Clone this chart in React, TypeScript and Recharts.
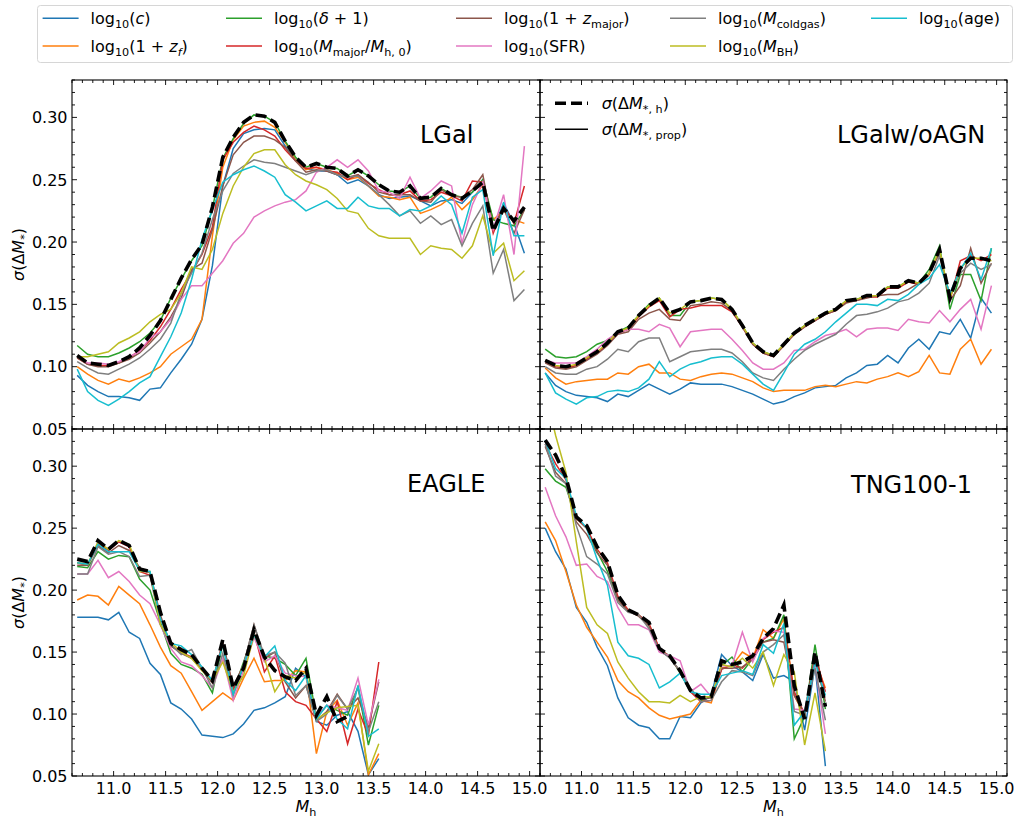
import { LineChart, Line, XAxis, YAxis } from "recharts";

// halo mass bins (same grid for all runs, EAGLE and TNG stop earlier)
const MH_BINS = [
  10.65, 10.75, 10.85, 10.95, 11.05, 11.15, 11.25, 11.35, 11.45, 11.55, 11.65,
  11.75, 11.85, 11.95, 12.05, 12.15, 12.25, 12.35, 12.45, 12.55, 12.65, 12.75,
  12.85, 12.95, 13.05, 13.15, 13.25, 13.35, 13.45, 13.55, 13.65, 13.75, 13.85,
  13.95, 14.05, 14.15, 14.25, 14.35, 14.45, 14.55, 14.65, 14.75, 14.85, 14.95,
];

const X_MAJOR = [11.0, 11.5, 12.0, 12.5, 13.0, 13.5, 14.0, 14.5, 15.0];
const Y_MAJOR = [0.05, 0.1, 0.15, 0.2, 0.25, 0.3];

// ---- LGal
const LGAL_H = [0.109, 0.103, 0.102, 0.101, 0.104, 0.108, 0.115, 0.125, 0.137, 0.154, 0.171, 0.186, 0.198, 0.228, 0.268, 0.284, 0.296, 0.302, 0.301, 0.296, 0.281, 0.268, 0.26, 0.263, 0.26, 0.259, 0.253, 0.258, 0.253, 0.246, 0.241, 0.24, 0.245, 0.235, 0.236, 0.243, 0.238, 0.235, 0.241, 0.248, 0.209, 0.227, 0.217, 0.228];
const LGAL_C = [0.093, 0.085, 0.08, 0.076, 0.076, 0.075, 0.073, 0.082, 0.083, 0.095, 0.106, 0.118, 0.138, 0.181, 0.245, 0.275, 0.287, 0.29, 0.291, 0.29, 0.277, 0.266, 0.259, 0.257, 0.257, 0.254, 0.247, 0.25, 0.245, 0.238, 0.235, 0.236, 0.237, 0.233, 0.229, 0.233, 0.234, 0.231, 0.24, 0.25, 0.21, 0.231, 0.215, 0.191];
const LGAL_ZF = [0.1, 0.094, 0.089, 0.086, 0.09, 0.088, 0.091, 0.095, 0.1, 0.11, 0.116, 0.122, 0.138, 0.205, 0.26, 0.282, 0.293, 0.296, 0.297, 0.292, 0.28, 0.266, 0.258, 0.26, 0.258, 0.255, 0.25, 0.252, 0.245, 0.237, 0.236, 0.234, 0.236, 0.223, 0.226, 0.23, 0.236, 0.226, 0.234, 0.246, 0.218, 0.225, 0.218, 0.215];
const LGAL_D = [0.117, 0.11, 0.108, 0.108, 0.111, 0.115, 0.12, 0.127, 0.137, 0.155, 0.17, 0.185, 0.197, 0.227, 0.267, 0.283, 0.295, 0.302, 0.301, 0.296, 0.281, 0.268, 0.26, 0.263, 0.26, 0.259, 0.253, 0.258, 0.253, 0.246, 0.241, 0.24, 0.245, 0.235, 0.236, 0.243, 0.238, 0.236, 0.24, 0.25, 0.218, 0.215, 0.213, 0.226];
const LGAL_MM = [0.107, 0.102, 0.101, 0.101, 0.103, 0.107, 0.113, 0.121, 0.132, 0.146, 0.162, 0.176, 0.19, 0.212, 0.266, 0.28, 0.288, 0.293, 0.29, 0.285, 0.274, 0.265, 0.259, 0.26, 0.257, 0.256, 0.25, 0.254, 0.247, 0.242, 0.238, 0.238, 0.241, 0.233, 0.234, 0.24, 0.237, 0.233, 0.249, 0.248, 0.207, 0.229, 0.215, 0.245];
const LGAL_ZM = [0.107, 0.102, 0.1, 0.1, 0.103, 0.106, 0.111, 0.119, 0.128, 0.14, 0.155, 0.178, 0.183, 0.21, 0.245, 0.27, 0.28, 0.285, 0.285, 0.282, 0.276, 0.265, 0.256, 0.258, 0.257, 0.254, 0.252, 0.254, 0.248, 0.24, 0.238, 0.238, 0.238, 0.233, 0.232, 0.242, 0.237, 0.236, 0.242, 0.254, 0.211, 0.227, 0.207, 0.226];
const LGAL_SFR = [0.108, 0.103, 0.103, 0.102, 0.104, 0.108, 0.112, 0.123, 0.128, 0.138, 0.154, 0.165, 0.165, 0.175, 0.185, 0.199, 0.207, 0.22, 0.225, 0.229, 0.232, 0.234, 0.241, 0.256, 0.26, 0.266, 0.26, 0.266, 0.257, 0.241, 0.24, 0.235, 0.252, 0.235, 0.241, 0.249, 0.245, 0.199, 0.23, 0.248, 0.21, 0.238, 0.19, 0.277];
const LGAL_CG = [0.104, 0.099, 0.095, 0.094, 0.098, 0.102, 0.107, 0.114, 0.122, 0.135, 0.159, 0.175, 0.191, 0.218, 0.241, 0.255, 0.261, 0.266, 0.264, 0.263, 0.26, 0.257, 0.254, 0.257, 0.258, 0.254, 0.252, 0.253, 0.245, 0.238, 0.23, 0.221, 0.225, 0.215, 0.221, 0.214, 0.218, 0.197, 0.215, 0.229, 0.175, 0.194, 0.153, 0.162];
const LGAL_BH = [0.108, 0.108, 0.11, 0.112, 0.119, 0.123, 0.128, 0.136, 0.142, 0.146, 0.159, 0.18, 0.178, 0.194, 0.223, 0.245, 0.26, 0.271, 0.274, 0.274, 0.262, 0.254, 0.249, 0.246, 0.242, 0.235, 0.225, 0.223, 0.211, 0.205, 0.203, 0.203, 0.203, 0.19, 0.197, 0.195, 0.194, 0.187, 0.197, 0.221, 0.191, 0.199, 0.169, 0.177];
const LGAL_AGE = [0.098, 0.08, 0.073, 0.069, 0.074, 0.08, 0.087, 0.092, 0.108, 0.124, 0.143, 0.17, 0.202, 0.226, 0.248, 0.254, 0.258, 0.261, 0.257, 0.252, 0.238, 0.232, 0.225, 0.229, 0.233, 0.227, 0.227, 0.236, 0.229, 0.227, 0.227, 0.221, 0.226, 0.225, 0.229, 0.237, 0.23, 0.207, 0.236, 0.242, 0.189, 0.232, 0.205, 0.205];

// ---- LGal w/o AGN
const NOAGN_H = [0.105, 0.101, 0.1, 0.102, 0.107, 0.112, 0.119, 0.128, 0.131, 0.141, 0.149, 0.155, 0.143, 0.146, 0.152, 0.153, 0.155, 0.154, 0.146, 0.133, 0.119, 0.112, 0.109, 0.118, 0.127, 0.133, 0.138, 0.143, 0.146, 0.153, 0.154, 0.157, 0.157, 0.164, 0.164, 0.169, 0.167, 0.175, 0.194, 0.155, 0.179, 0.187, 0.187, 0.185];
const NOAGN_C = [0.095, 0.085, 0.08, 0.077, 0.076, 0.075, 0.072, 0.078, 0.076, 0.081, 0.086, 0.082, 0.078, 0.082, 0.087, 0.086, 0.086, 0.086, 0.084, 0.081, 0.078, 0.074, 0.07, 0.072, 0.076, 0.079, 0.083, 0.084, 0.085, 0.091, 0.095, 0.101, 0.102, 0.109, 0.103, 0.115, 0.122, 0.114, 0.128, 0.126, 0.138, 0.123, 0.155, 0.143];
const NOAGN_ZF = [0.099, 0.091, 0.086, 0.088, 0.089, 0.09, 0.09, 0.095, 0.094, 0.1, 0.102, 0.095, 0.095, 0.09, 0.089, 0.092, 0.094, 0.095, 0.094, 0.091, 0.088, 0.083, 0.08, 0.081, 0.081, 0.081, 0.084, 0.085, 0.084, 0.086, 0.088, 0.087, 0.09, 0.092, 0.095, 0.092, 0.096, 0.109, 0.095, 0.094, 0.114, 0.122, 0.102, 0.114];
const NOAGN_D = [0.114, 0.108, 0.107, 0.108, 0.112, 0.118, 0.121, 0.128, 0.132, 0.141, 0.15, 0.155, 0.141, 0.141, 0.152, 0.153, 0.155, 0.154, 0.146, 0.133, 0.119, 0.112, 0.109, 0.118, 0.127, 0.133, 0.138, 0.143, 0.146, 0.153, 0.154, 0.157, 0.157, 0.164, 0.164, 0.169, 0.167, 0.178, 0.197, 0.146, 0.174, 0.174, 0.153, 0.195];
const NOAGN_MM = [0.104, 0.1, 0.099, 0.101, 0.106, 0.111, 0.118, 0.127, 0.13, 0.14, 0.148, 0.153, 0.14, 0.146, 0.147, 0.149, 0.149, 0.149, 0.144, 0.132, 0.118, 0.111, 0.108, 0.117, 0.126, 0.132, 0.137, 0.142, 0.145, 0.152, 0.153, 0.156, 0.156, 0.163, 0.163, 0.168, 0.166, 0.174, 0.192, 0.153, 0.185, 0.189, 0.185, 0.19];
const NOAGN_ZM = [0.103, 0.099, 0.098, 0.1, 0.105, 0.11, 0.117, 0.126, 0.128, 0.138, 0.143, 0.146, 0.138, 0.137, 0.149, 0.15, 0.152, 0.151, 0.145, 0.132, 0.118, 0.111, 0.108, 0.117, 0.126, 0.132, 0.137, 0.142, 0.145, 0.151, 0.153, 0.155, 0.157, 0.158, 0.158, 0.162, 0.167, 0.175, 0.191, 0.153, 0.165, 0.195, 0.167, 0.183];
const NOAGN_SFR = [0.105, 0.103, 0.103, 0.103, 0.108, 0.114, 0.122, 0.127, 0.13, 0.13, 0.128, 0.134, 0.131, 0.116, 0.128, 0.129, 0.13, 0.13, 0.122, 0.113, 0.103, 0.098, 0.098, 0.103, 0.113, 0.114, 0.12, 0.125, 0.127, 0.13, 0.124, 0.13, 0.131, 0.131, 0.129, 0.138, 0.136, 0.135, 0.145, 0.136, 0.146, 0.154, 0.13, 0.165];
const NOAGN_CG = [0.1, 0.095, 0.094, 0.094, 0.098, 0.1, 0.106, 0.114, 0.112, 0.12, 0.123, 0.123, 0.104, 0.108, 0.112, 0.113, 0.114, 0.114, 0.111, 0.104, 0.095, 0.091, 0.089, 0.098, 0.106, 0.113, 0.118, 0.122, 0.126, 0.134, 0.141, 0.142, 0.144, 0.147, 0.152, 0.154, 0.159, 0.167, 0.189, 0.157, 0.175, 0.183, 0.178, 0.182];
const NOAGN_BH = [0.105, 0.101, 0.1, 0.102, 0.107, 0.112, 0.119, 0.128, 0.131, 0.141, 0.149, 0.155, 0.143, 0.146, 0.152, 0.153, 0.155, 0.154, 0.146, 0.133, 0.119, 0.112, 0.109, 0.118, 0.127, 0.133, 0.138, 0.143, 0.146, 0.153, 0.154, 0.157, 0.157, 0.164, 0.164, 0.169, 0.167, 0.175, 0.194, 0.155, 0.179, 0.187, 0.187, 0.185];
const NOAGN_AGE = [0.095, 0.079, 0.074, 0.07, 0.075, 0.076, 0.08, 0.081, 0.08, 0.083, 0.09, 0.104, 0.092, 0.098, 0.102, 0.104, 0.107, 0.108, 0.108, 0.102, 0.094, 0.086, 0.081, 0.095, 0.11, 0.118, 0.122, 0.128, 0.136, 0.143, 0.15, 0.15, 0.149, 0.154, 0.153, 0.158, 0.166, 0.171, 0.182, 0.159, 0.178, 0.191, 0.17, 0.195];

// ---- EAGLE
const EAGLE_H = [0.225, 0.223, 0.24, 0.233, 0.24, 0.236, 0.217, 0.215, 0.182, 0.157, 0.152, 0.148, 0.137, 0.127, 0.16, 0.121, 0.137, 0.168, 0.146, 0.135, 0.13, 0.127, 0.137, 0.099, 0.114, 0.094, 0.098];
const EAGLE_C = [0.178, 0.178, 0.178, 0.176, 0.182, 0.166, 0.161, 0.141, 0.132, 0.109, 0.104, 0.096, 0.083, 0.082, 0.081, 0.084, 0.092, 0.103, 0.105, 0.109, 0.114, 0.137, 0.13, 0.094, 0.091, 0.099, 0.102, 0.086, 0.051, 0.064];
const EAGLE_ZF = [0.192, 0.196, 0.195, 0.188, 0.203, 0.196, 0.189, 0.172, 0.154, 0.139, 0.133, 0.118, 0.103, 0.11, 0.117, 0.111, 0.129, 0.145, 0.126, 0.127, 0.127, 0.135, 0.134, 0.068, 0.102, 0.111, 0.091, 0.109, 0.051, 0.068];
const EAGLE_D = [0.219, 0.218, 0.231, 0.225, 0.228, 0.227, 0.209, 0.2, 0.174, 0.149, 0.14, 0.137, 0.132, 0.117, 0.157, 0.118, 0.142, 0.165, 0.147, 0.145, 0.14, 0.131, 0.145, 0.097, 0.107, 0.103, 0.099, 0.122, 0.075, 0.107];
const EAGLE_MM = [0.222, 0.22, 0.238, 0.232, 0.239, 0.235, 0.215, 0.212, 0.178, 0.155, 0.15, 0.146, 0.136, 0.126, 0.158, 0.12, 0.137, 0.166, 0.134, 0.147, 0.118, 0.11, 0.107, 0.096, 0.086, 0.11, 0.076, 0.104, 0.083, 0.142];
const EAGLE_ZM = [0.22, 0.22, 0.236, 0.23, 0.236, 0.232, 0.218, 0.214, 0.18, 0.155, 0.149, 0.145, 0.136, 0.125, 0.158, 0.122, 0.14, 0.172, 0.145, 0.15, 0.126, 0.113, 0.123, 0.095, 0.102, 0.116, 0.104, 0.113, 0.09, 0.126];
const EAGLE_SFR = [0.213, 0.213, 0.224, 0.21, 0.215, 0.207, 0.196, 0.189, 0.172, 0.153, 0.142, 0.139, 0.131, 0.121, 0.145, 0.111, 0.135, 0.162, 0.142, 0.147, 0.133, 0.131, 0.13, 0.098, 0.107, 0.105, 0.103, 0.129, 0.091, 0.128];
const EAGLE_CG = [0.213, 0.213, 0.235, 0.229, 0.231, 0.227, 0.211, 0.212, 0.172, 0.156, 0.148, 0.152, 0.137, 0.121, 0.149, 0.115, 0.14, 0.172, 0.147, 0.15, 0.141, 0.115, 0.123, 0.094, 0.1, 0.115, 0.104, 0.121, 0.086, 0.11];
const EAGLE_BH = [0.222, 0.221, 0.239, 0.233, 0.24, 0.237, 0.215, 0.215, 0.172, 0.158, 0.15, 0.145, 0.135, 0.127, 0.142, 0.118, 0.131, 0.164, 0.145, 0.118, 0.131, 0.129, 0.134, 0.096, 0.101, 0.105, 0.106, 0.107, 0.054, 0.076];
const EAGLE_AGE = [0.222, 0.221, 0.237, 0.231, 0.231, 0.231, 0.216, 0.215, 0.177, 0.157, 0.155, 0.148, 0.138, 0.127, 0.156, 0.116, 0.139, 0.164, 0.146, 0.155, 0.127, 0.119, 0.131, 0.096, 0.107, 0.096, 0.088, 0.123, 0.082, 0.088];

// ---- TNG100-1
const TNG_H = [0.321, 0.309, 0.291, 0.259, 0.252, 0.235, 0.223, 0.196, 0.184, 0.18, 0.174, 0.153, 0.147, 0.135, 0.119, 0.113, 0.114, 0.143, 0.14, 0.142, 0.147, 0.161, 0.169, 0.188, 0.123, 0.096, 0.15, 0.106];
const TNG_C = [0.25, 0.231, 0.217, 0.186, 0.174, 0.154, 0.139, 0.113, 0.097, 0.091, 0.089, 0.08, 0.08, 0.098, 0.097, 0.109, 0.115, 0.148, 0.139, 0.134, 0.127, 0.148, 0.129, 0.131, 0.126, 0.087, 0.139, 0.058];
const TNG_ZF = [0.255, 0.24, 0.215, 0.188, 0.17, 0.158, 0.146, 0.127, 0.118, 0.113, 0.105, 0.099, 0.096, 0.098, 0.1, 0.111, 0.109, 0.137, 0.139, 0.15, 0.145, 0.168, 0.161, 0.177, 0.115, 0.099, 0.143, 0.121];
const TNG_D = [0.298, 0.288, 0.283, 0.258, 0.25, 0.231, 0.215, 0.193, 0.184, 0.18, 0.172, 0.152, 0.147, 0.133, 0.119, 0.111, 0.114, 0.139, 0.146, 0.134, 0.145, 0.158, 0.161, 0.18, 0.08, 0.098, 0.156, 0.104];
const TNG_MM = [0.318, 0.302, 0.289, 0.258, 0.25, 0.233, 0.222, 0.195, 0.184, 0.18, 0.173, 0.153, 0.146, 0.134, 0.118, 0.11, 0.111, 0.136, 0.14, 0.137, 0.146, 0.16, 0.166, 0.17, 0.118, 0.1, 0.148, 0.118];
const TNG_ZM = [0.316, 0.295, 0.286, 0.255, 0.245, 0.23, 0.22, 0.192, 0.183, 0.179, 0.171, 0.151, 0.146, 0.134, 0.119, 0.112, 0.113, 0.137, 0.137, 0.138, 0.144, 0.158, 0.16, 0.158, 0.115, 0.1, 0.146, 0.11];
const TNG_SFR = [0.283, 0.26, 0.243, 0.22, 0.221, 0.211, 0.207, 0.186, 0.172, 0.172, 0.168, 0.15, 0.147, 0.143, 0.118, 0.124, 0.114, 0.139, 0.139, 0.166, 0.142, 0.161, 0.167, 0.166, 0.104, 0.103, 0.139, 0.084];
const TNG_CG = [0.318, 0.292, 0.286, 0.252, 0.227, 0.221, 0.213, 0.19, 0.182, 0.18, 0.169, 0.152, 0.145, 0.135, 0.121, 0.11, 0.111, 0.126, 0.135, 0.134, 0.131, 0.15, 0.156, 0.164, 0.102, 0.099, 0.137, 0.095];
const TNG_BH = [0.36, 0.325, 0.295, 0.239, 0.186, 0.172, 0.165, 0.142, 0.129, 0.118, 0.11, 0.11, 0.109, 0.115, 0.11, 0.114, 0.114, 0.14, 0.138, 0.145, 0.137, 0.15, 0.123, 0.148, 0.134, 0.075, 0.117, 0.07];
const TNG_AGE = [0.321, 0.298, 0.29, 0.26, 0.25, 0.225, 0.204, 0.158, 0.147, 0.145, 0.14, 0.121, 0.126, 0.133, 0.118, 0.116, 0.116, 0.131, 0.133, 0.135, 0.132, 0.156, 0.149, 0.173, 0.091, 0.102, 0.142, 0.115];

const FONT = "DejaVu Sans, sans-serif";

// legend label pieces: i = italic, s = subscript
type Seg = { t: string; i?: boolean; s?: boolean };
const LOG: Seg[] = [{ t: "log" }, { t: "10", s: true }];

const SERIES = [
  { key: "c", color: "#1f77b4", label: [...LOG, { t: "(" }, { t: "c", i: true }, { t: ")" }] },
  { key: "zf", color: "#ff7f0e", label: [...LOG, { t: "(1 + " }, { t: "z", i: true }, { t: "f", i: true, s: true }, { t: ")" }] },
  { key: "d", color: "#2ca02c", label: [...LOG, { t: "(" }, { t: "δ", i: true }, { t: " + 1)" }] },
  { key: "mm", color: "#d62728", label: [...LOG, { t: "(" }, { t: "M", i: true }, { t: "major", s: true }, { t: "/" }, { t: "M", i: true }, { t: "h, 0", s: true }, { t: ")" }] },
  { key: "zm", color: "#8c564b", label: [...LOG, { t: "(1 + " }, { t: "z", i: true }, { t: "major", s: true }, { t: ")" }] },
  { key: "sfr", color: "#e377c2", label: [...LOG, { t: "(SFR)" }] },
  { key: "cg", color: "#7f7f7f", label: [...LOG, { t: "(" }, { t: "M", i: true }, { t: "coldgas", s: true }, { t: ")" }] },
  { key: "bh", color: "#bcbd22", label: [...LOG, { t: "(" }, { t: "M", i: true }, { t: "BH", s: true }, { t: ")" }] },
  { key: "age", color: "#17becf", label: [...LOG, { t: "(age)" }] },
];

const PANELS = [
  { name: "LGal", left: 72, top: 80, w: 468, h: 349, n: 44, showX: false, showY: true, tx: 420, ty: 143,
    hs: LGAL_H, vals: { c: LGAL_C, zf: LGAL_ZF, d: LGAL_D, mm: LGAL_MM, zm: LGAL_ZM, sfr: LGAL_SFR, cg: LGAL_CG, bh: LGAL_BH, age: LGAL_AGE } },
  { name: "LGalw/oAGN", left: 540, top: 80, w: 467, h: 349, n: 44, showX: false, showY: false, tx: 837, ty: 143,
    hs: NOAGN_H, vals: { c: NOAGN_C, zf: NOAGN_ZF, d: NOAGN_D, mm: NOAGN_MM, zm: NOAGN_ZM, sfr: NOAGN_SFR, cg: NOAGN_CG, bh: NOAGN_BH, age: NOAGN_AGE } },
  { name: "EAGLE", left: 72, top: 429, w: 468, h: 347, n: 30, showX: true, showY: true, tx: 407, ty: 492,
    hs: EAGLE_H, vals: { c: EAGLE_C, zf: EAGLE_ZF, d: EAGLE_D, mm: EAGLE_MM, zm: EAGLE_ZM, sfr: EAGLE_SFR, cg: EAGLE_CG, bh: EAGLE_BH, age: EAGLE_AGE } },
  { name: "TNG100-1", left: 540, top: 429, w: 467, h: 347, n: 28, showX: true, showY: false, tx: 851, ty: 493,
    hs: TNG_H, vals: { c: TNG_C, zf: TNG_ZF, d: TNG_D, mm: TNG_MM, zm: TNG_ZM, sfr: TNG_SFR, cg: TNG_CG, bh: TNG_BH, age: TNG_AGE } },
];

const X_TICKS = Array.from({ length: 46 }, (_, i) => +(10.6 + i * 0.1).toFixed(1));
const Y_TICKS = Array.from({ length: 29 }, (_, i) => +(0.05 + i * 0.01).toFixed(2));

const isMajor = (v: number, list: number[]) => list.some((m) => Math.abs(m - v) < 1e-6);

// renders mathtext-like pieces as tspans
function MathText({ segs, size = 16 }: { segs: Seg[]; size?: number }) {
  let shifted = false;
  return (
    <>
      {segs.map((sg, i) => {
        let dy = 0;
        if (sg.s && !shifted) { dy = 4; shifted = true; }
        else if (!sg.s && shifted) { dy = -4; shifted = false; }
        return (
          <tspan key={i} dy={dy || undefined} fontStyle={sg.i ? "italic" : "normal"} fontSize={sg.s ? size * 0.7 : size}>
            {sg.t}
          </tspan>
        );
      })}
    </>
  );
}

function XTick(props: any) {
  const { x, y, payload, plotH, showLabel } = props;
  const v = payload.value;
  const major = isMajor(v, X_MAJOR);
  const len = major ? 5 : 3;
  return (
    <g>
      <line x1={x} y1={y} x2={x} y2={y - len} stroke="#000" strokeWidth={0.9} />
      <line x1={x} y1={y - plotH} x2={x} y2={y - plotH + len} stroke="#000" strokeWidth={0.9} />
      {major && showLabel && (
        <text x={x} y={y + 18} textAnchor="middle" fontSize={16} fontFamily={FONT} fill="#000">
          {v.toFixed(1)}
        </text>
      )}
    </g>
  );
}

function YTick(props: any) {
  const { x, y, payload, plotW, showLabel } = props;
  const v = payload.value;
  const major = isMajor(v, Y_MAJOR);
  const len = major ? 5 : 3;
  return (
    <g>
      <line x1={x} y1={y} x2={x + len} y2={y} stroke="#000" strokeWidth={0.9} />
      <line x1={x + plotW - len} y1={y} x2={x + plotW} y2={y} stroke="#000" strokeWidth={0.9} />
      {major && showLabel && (
        <text x={x - 4.5} y={y + 5.8} textAnchor="end" fontSize={16} fontFamily={FONT} fill="#000">
          {v.toFixed(2)}
        </text>
      )}
    </g>
  );
}

const PL = 60, PT = 10, PR = 10, PB = 30;

function Panel({ p }: { p: (typeof PANELS)[number] }) {
  const data = MH_BINS.slice(0, p.n).map((x, i) => {
    const row: Record<string, number | undefined> = { x, h: p.hs[i] };
    SERIES.forEach((s) => { row[s.key] = (p.vals as any)[s.key][i]; });
    return row;
  });
  return (
    <div style={{ position: "absolute", left: p.left - PL, top: p.top - PT }}>
      <LineChart width={p.w + PL + PR} height={p.h + PT + PB} data={data} margin={{ top: PT, right: PR, bottom: 0, left: 0 }}>
        <XAxis dataKey="x" type="number" domain={[10.6, 15.1]} ticks={X_TICKS} interval={0} allowDataOverflow
          axisLine={false} tickLine={false} tickSize={0} tickMargin={0} height={PB}
          tick={(t: any) => <XTick {...t} plotH={p.h} showLabel={p.showX} />} />
        <YAxis type="number" domain={[0.05, 0.33]} ticks={Y_TICKS} interval={0} allowDataOverflow
          axisLine={false} tickLine={false} tickSize={0} tickMargin={0} width={PL}
          tick={(t: any) => <YTick {...t} plotW={p.w} showLabel={p.showY} />} />
        {SERIES.map((s) => (
          <Line key={s.key} type="linear" dataKey={s.key} stroke={s.color} strokeWidth={1.5} dot={false} isAnimationActive={false} />
        ))}
        <Line type="linear" dataKey="h" stroke="#000" strokeWidth={3.6} strokeDasharray="11 5" dot={false} isAnimationActive={false} />
      </LineChart>
    </div>
  );
}

const LEG_COLS = [42.6, 226, 456, 670, 871];
const LEG_ROWS = [18.3, 46];

const SIGMA_Y: Seg[] = [{ t: "σ", i: true }, { t: "(Δ" }, { t: "M", i: true }, { t: "*", s: true }, { t: ")" }];
const SIGMA_H: Seg[] = [{ t: "σ", i: true }, { t: "(Δ" }, { t: "M", i: true }, { t: "*, h", s: true }, { t: ")" }];
const SIGMA_P: Seg[] = [{ t: "σ", i: true }, { t: "(Δ" }, { t: "M", i: true }, { t: "*, prop", s: true }, { t: ")" }];
const MH_LABEL: Seg[] = [{ t: "M", i: true }, { t: "h", s: true }];

export default function App() {
  return (
    <div style={{ position: "absolute", left: 0, top: 0, width: 1020, height: 820, background: "#fff", overflow: "hidden" }}>
      {PANELS.map((p) => <Panel key={p.name} p={p} />)}
      <svg width={1020} height={820} style={{ position: "absolute", left: 0, top: 0, pointerEvents: "none" }} fontFamily={FONT}>
        {PANELS.map((p) => (
          <g key={p.name}>
            <rect x={p.left} y={p.top} width={p.w} height={p.h} fill="none" stroke="#000" strokeWidth={1.1} />
            <text x={p.tx} y={p.ty} fontSize={24} fill="#000">{p.name}</text>
          </g>
        ))}
        {/* legend */}
        <rect x={37.5} y={5.5} width={975} height={57} rx={3} fill="#fff" fillOpacity={0.8} stroke="#d6d6d6" />
        {SERIES.map((s, i) => {
          const cx = LEG_COLS[Math.floor(i / 2)];
          const cy = LEG_ROWS[i % 2];
          return (
            <g key={s.key}>
              <line x1={cx} x2={cx + 36} y1={cy} y2={cy} stroke={s.color} strokeWidth={1.5} />
              <text x={cx + 48} y={cy + 5.5} fontSize={16} fill="#000" style={{ whiteSpace: "pre" }}>
                <MathText segs={s.label} />
              </text>
            </g>
          );
        })}
        {/* inner legend */}
        <line x1={555} x2={588} y1={103.3} y2={103.3} stroke="#000" strokeWidth={3.6} strokeDasharray="11 5" />
        <text x={601.7} y={109} fontSize={16} fill="#000" style={{ whiteSpace: "pre" }}><MathText segs={SIGMA_H} /></text>
        <line x1={555} x2={588} y1={129.3} y2={129.3} stroke="#000" strokeWidth={1.5} />
        <text x={601.7} y={135} fontSize={16} fill="#000" style={{ whiteSpace: "pre" }}><MathText segs={SIGMA_P} /></text>
        {/* axis labels */}
        {[254.5, 602.5].map((cy) => (
          <text key={cy} transform={`translate(24,${cy}) rotate(-90)`} textAnchor="middle" fontSize={16} fill="#000">
            <MathText segs={SIGMA_Y} />
          </text>
        ))}
        {[306, 773.5].map((cx) => (
          <text key={cx} x={cx} y={812} textAnchor="middle" fontSize={16} fill="#000"><MathText segs={MH_LABEL} /></text>
        ))}
      </svg>
    </div>
  );
}
